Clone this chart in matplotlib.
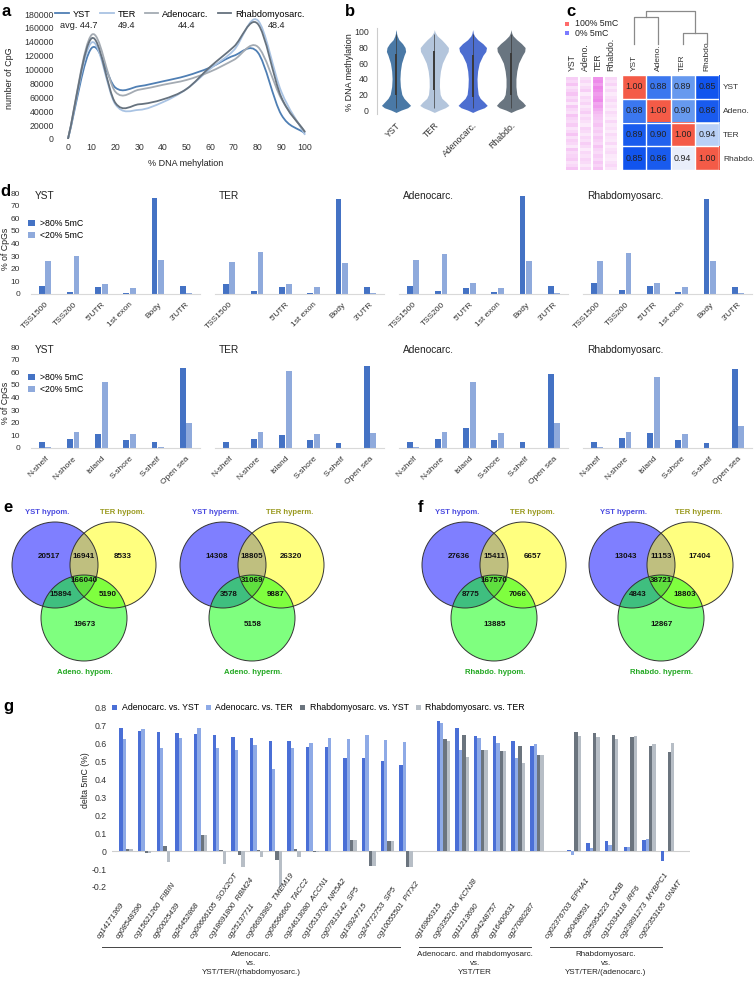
import numpy as np
import matplotlib

matplotlib.use("Agg")
import matplotlib.pyplot as plt
import matplotlib.transforms as mtransforms
from matplotlib.patches import Circle, PathPatch
from matplotlib.path import Path
from matplotlib.lines import Line2D
from matplotlib.colors import LinearSegmentedColormap

plt.rcParams["font.family"] = ["Liberation Sans", "DejaVu Sans"]

# ── data ─────────────────────────────────────────────────────────────────────
# a: CpG counts per methylation bin
meth_bins = [0, 10, 20, 30, 40, 50, 60, 70, 80, 90, 100]
cpg_yst = [0, 131000, 74000, 76000, 83000, 91000, 103000, 120000, 125000, 35000, 8000]
cpg_ter = [0, 139000, 50000, 42000, 53000, 72000, 101000, 128000, 171000, 68000, 6000]
cpg_adeno = [0, 150000, 68000, 71000, 78000, 85000, 97000, 114000, 133000, 58000, 10000]
cpg_rhabdo = [0, 145000, 52000, 50000, 57000, 72000, 104000, 133000, 166000, 60000, 10000]
tumours_a = ["YST", "TER", "Adenocarc.", "Rhabdomyosarc."]
avg_meth = ["44.7", "49.4", "44.4", "48.4"]

# b: violin outlines (relative density at each methylation level)
violin_names = ["YST", "TER", "Adenocarc.", "Rhabdo."]
violin_levels = [-3, 0, 3, 6, 10, 15, 20, 30, 40, 50, 60, 70, 75, 80, 85, 90, 95, 98, 100, 103]
dens_yst = [0, .35, .8, 1.0, .8, .55, .4, .3, .27, .3, .38, .55, .66, .62, .45, .2, .08, .04, .03, 0]
dens_ter = [0, .35, .75, 1.0, .82, .52, .4, .35, .36, .42, .55, .8, .95, .97, .75, .5, .2, .1, .04, 0]
dens_adeno = [0, .35, .8, 1.0, .8, .52, .38, .32, .3, .34, .45, .7, .9, .95, .7, .35, .12, .05, .03, 0]
dens_rhabdo = [0, .35, .8, 1.0, .82, .52, .4, .34, .34, .4, .52, .78, .94, .97, .72, .4, .14, .06, .03, 0]
violin_q1 = [19, 26, 17, 19]
violin_q3 = [72, 75, 71, 73]
violin_lo = [3, 3, 3, 3]
violin_hi = [97, 97, 97, 97]

# c: per-CpG methylation stripes (0..1) and correlation matrix
stripe_labels = ["YST", "Adeno.", "TER", "Rhabdo."]
stripe_yst = [.25, .2, .3, .15, .22, .3, .18, .25, .12, .28, .2, .15, .3, .22, .18,
              .26, .14, .2, .3, .16, .24, .2, .12, .28, .18, .22, .26, .15, .2, .3]
stripe_adeno = [.15, .2, .12, .18, .25, .1, .2, .15, .22, .12, .18, .25, .14, .2, .16,
                .1, .22, .18, .12, .2, .15, .25, .18, .1, .2, .15, .22, .18, .12, .2]
stripe_ter = [.55, .6, .5, .62, .58, .5, .55, .6, .45, .5, .42, .35, .3, .28, .25,
              .3, .22, .26, .2, .28, .24, .2, .3, .22, .18, .25, .2, .28, .22, .3]
stripe_rhabdo = [.2, .15, .22, .12, .18, .1, .15, .2, .12, .16, .1, .18, .14, .1, .2,
                 .12, .16, .1, .18, .14, .12, .2, .1, .15, .18, .12, .1, .16, .2, .14]
corr_labels = ["YST", "Adeno.", "TER", "Rhabdo."]
corr_values = [[1.00, 0.88, 0.89, 0.85],
               [0.88, 1.00, 0.90, 0.86],
               [0.89, 0.90, 1.00, 0.94],
               [0.85, 0.86, 0.94, 1.00]]
# colour key as printed in the original (not symmetric)
corr_shade = [[1.00, 0.875, 0.90, 0.85],
              [0.875, 1.00, 0.90, 0.855],
              [0.855, 0.86, 1.00, 0.935],
              [0.85, 0.855, 0.955, 1.00]]
dendro_heights = [0.27, 0.11, 0.33]  # (YST,Adeno), (TER,Rhabdo), root

# d: % of CpGs by region, >80% and <20% 5mC
gene_regions = ["TSS1500", "TSS200", "5'UTR", "1st exon", "Body", "3'UTR"]
gene_regions_ter = ["TSS1500", "", "5'UTR", "1st exon", "Body", "3'UTR"]
island_regions = ["N-shelf", "N-shore", "Island", "S-shore", "S-shelf", "Open sea"]
tumours_d = ["YST", "TER", "Adenocarc.", "Rhabdomyosarc."]
hi_gene = {"YST": [6.1, 1.8, 5.5, 1.0, 76.0, 6.6],
           "TER": [8.2, 2.1, 5.5, 1.0, 75.2, 5.5],
           "Adenocarc.": [6.3, 2.6, 4.7, 1.6, 77.6, 6.3],
           "Rhabdomyosarc.": [8.4, 2.9, 6.3, 1.6, 75.2, 5.5]}
lo_gene = {"YST": [26.4, 30.3, 8.2, 5.0, 27.2, 0.5],
           "TER": [25.6, 33.5, 8.2, 5.3, 24.5, 0.5],
           "Adenocarc.": [26.9, 31.4, 8.7, 5.0, 26.1, 0.8],
           "Rhabdomyosarc.": [25.9, 32.7, 9.0, 5.3, 25.9, 0.8]}
hi_island = {"YST": [5.0, 7.1, 11.0, 6.3, 4.5, 63.5],
             "TER": [4.7, 7.3, 10.0, 6.3, 4.2, 64.8],
             "Adenocarc.": [5.0, 7.3, 15.5, 6.6, 4.5, 58.3],
             "Rhabdomyosarc.": [4.5, 7.6, 11.5, 6.6, 3.9, 62.5]}
lo_island = {"YST": [1.0, 12.9, 52.0, 11.3, 0.5, 19.9],
             "TER": [0.3, 12.6, 61.2, 11.0, 0.3, 12.1],
             "Adenocarc.": [0.5, 12.9, 52.2, 11.5, 0.3, 19.9],
             "Rhabdomyosarc.": [0.5, 12.3, 55.9, 11.0, 0.3, 17.6]}

# e/f: Venn counts, order = A only, A&B, B only, A&B&C, A&C, B&C, C only
venn_e_hypo = [20517, 16941, 8533, 166040, 15894, 5190, 19673]
venn_e_hyper = [14308, 18805, 26320, 31069, 3578, 9887, 5158]
venn_f_hypo = [27636, 15411, 6657, 167570, 8775, 7066, 13885]
venn_f_hyper = [13043, 11153, 17404, 38721, 4843, 18803, 12867]

# g: delta 5mC per probe
probe_labels = [
    "cg14171369", "cg08548396", "cg15621260  FIBIN", "cg00025439", "cg26452868",
    "cg00666105  SOX2OT", "cg18691800  RBM24", "cg25137711", "cg06693983  TMEM19",
    "cg06566660  TACC2", "cg24613080  ACCN1", "cg10513702  NR5A2", "cg07813142  SP5",
    "cg13924715", "cg24772753  SP5", "cg10055501  PITX2",
    "cg16966315", "cg03352106  KCNJ8", "cg11213690", "cg04248757", "cg16400631", "cg27080287",
    "cg02376703  EPHA1", "cg00498591", "cg25954223  CA5B", "cg12034118  IRF6",
    "cg23891273  MYBPC1", "cg02353165  GNMT"]
probe_group_sizes = [16, 6, 6]
a_vs_yst = [0.691, 0.670, 0.665, 0.663, 0.652, 0.648, 0.637, 0.633, 0.616, 0.616, 0.583, 0.581,
            0.523, 0.521, 0.503, 0.480,
            0.728, 0.691, 0.644, 0.644, 0.616, 0.590,
            0.005, 0.045, 0.055, 0.022, 0.060, -0.055]
a_vs_ter = [0.626, 0.680, 0.579, 0.635, 0.687, 0.574, 0.564, 0.594, 0.460, 0.574, 0.607, 0.633,
            0.626, 0.648, 0.620, 0.609,
            0.717, 0.568, 0.633, 0.603, 0.521, 0.601,
            -0.020, 0.020, 0.035, 0.025, 0.070, 0.002]
r_vs_yst = [0.015, -0.010, 0.030, 0.002, 0.090, 0.005, -0.020, 0.005, -0.050, 0.010, -0.005, 0.002,
            0.060, -0.080, 0.055, -0.090,
            0.626, 0.650, 0.564, 0.561, 0.587, 0.540,
            0.667, 0.659, 0.650, 0.637, 0.590, 0.553]
r_vs_ter = [0.015, -0.010, -0.060, 0.000, 0.090, -0.070, -0.090, -0.030, -0.205, -0.030, -0.005, 0.000,
            0.060, -0.080, 0.055, -0.090,
            0.615, 0.525, 0.564, 0.561, 0.490, 0.540,
            0.641, 0.637, 0.628, 0.641, 0.601, 0.607]
g_series = ["Adenocarc. vs. YST", "Adenocarc. vs. TER", "Rhabdomyosarc. vs. YST", "Rhabdomyosarc. vs. TER"]
group_titles = ["Adenocarc.\nvs.\nYST/TER/(rhabdomyosarc.)",
                "Adenocarc. and rhabdomyosarc.\nvs.\nYST/TER",
                "Rhabdomyosarc.\nvs.\nYST/TER/(adenocarc.)"]

# ── figure helpers ───────────────────────────────────────────────────────────
W, H = 754, 985
fig = plt.figure(figsize=(W / 100, H / 100), dpi=100)
TXT = "#222222"


def px_axes(left, top, right, bottom):
    return fig.add_axes([left / W, 1 - bottom / H, (right - left) / W, (bottom - top) / H])


def ftext(x, y, s, **kw):
    kw.setdefault("color", TXT)
    return fig.text(x / W, 1 - y / H, s, **kw)


def smooth_path(xs, ys):
    # cubic bezier through the points (Excel style smoothed line)
    xs = np.asarray(xs, float)
    ys = np.asarray(ys, float)
    m = np.empty(len(xs))
    m[0] = (ys[1] - ys[0]) / (xs[1] - xs[0])
    m[-1] = (ys[-1] - ys[-2]) / (xs[-1] - xs[-2])
    m[1:-1] = (ys[2:] - ys[:-2]) / (xs[2:] - xs[:-2])
    verts, codes = [(xs[0], ys[0])], [Path.MOVETO]
    for i in range(len(xs) - 1):
        d = (xs[i + 1] - xs[i]) / 3
        verts += [(xs[i] + d, ys[i] + m[i] * d), (xs[i + 1] - d, ys[i + 1] - m[i + 1] * d),
                  (xs[i + 1], ys[i + 1])]
        codes += [Path.CURVE4] * 3
    return Path(verts, codes)


for lab, (x, y) in {"a": (2, 11), "b": (345, 11), "c": (566, 11), "d": (0, 191),
                    "e": (3, 507), "f": (418, 507), "g": (3, 707)}.items():
    ftext(x, y, lab, fontsize=12, fontweight="bold", va="center", color="black")

# ── a ────────────────────────────────────────────────────────────────────────
ax = px_axes(58, 14, 315, 139)
cols_a = ["#4f7fb4", "#a9c3e3", "#a4abb3", "#66727e"]
for vals, col in zip([cpg_yst, cpg_ter, cpg_adeno, cpg_rhabdo], cols_a):
    ax.add_patch(PathPatch(smooth_path(meth_bins, vals), fill=False, edgecolor=col, lw=1.3))
ax.set_xlim(-4.2, 104.2)
ax.set_ylim(0, 180000)
ax.set_xticks(range(0, 101, 10))
yt = list(range(0, 180001, 20000))
ax.set_yticks(yt)
ax.set_yticklabels([str(v) for v in yt])
ax.tick_params(length=0, labelsize=6.3, colors="#333333", pad=3)
for s in ax.spines.values():
    s.set_visible(False)
handles = [Line2D([], [], color=c, lw=1.3) for c in cols_a]
ax.legend(handles, tumours_a, ncol=4, frameon=False, fontsize=6.6, loc="center left",
          bbox_to_anchor=(-0.01, 1.0), handlelength=1.5, columnspacing=1.0, handletextpad=0.4,
          borderpad=0, borderaxespad=0)
for x, s in zip([60, 118, 178, 268], ["avg. " + avg_meth[0]] + avg_meth[1:]):
    ftext(x, 25, s, fontsize=6.6, va="center")
ftext(10, 78, "number of CpG", rotation=90, ha="center", va="center", fontsize=6.5)
ftext(186, 164, "% DNA mehylation", ha="center", va="center", fontsize=6.5)

# ── b ────────────────────────────────────────────────────────────────────────
ax = px_axes(377, 28, 540, 114)
cols_b = ["#4a79a6", "#b3c5dc", "#4d6ed0", "#697580"]
for i, (dens, col) in enumerate(zip([dens_yst, dens_ter, dens_adeno, dens_rhabdo], cols_b)):
    d = np.asarray(dens) * 0.38
    ax.fill_betweenx(violin_levels, i - d, i + d, color=col, lw=0, clip_on=False)
ax.vlines(range(4), violin_lo, violin_hi, color="#3a3a3a", lw=0.5)
ax.vlines(range(4), violin_q1, violin_q3, color="#3a3a3a", lw=1.4)
ax.set_xlim(-0.496, 3.757)
ax.set_ylim(-5, 105)
ax.set_yticks(range(0, 101, 20))
ax.set_xticks(range(4))
ax.set_xticklabels(violin_names, rotation=45, ha="right", va="top", rotation_mode="anchor")
ax.tick_params(length=0, labelsize=6.3, colors="#333333")
ax.tick_params(axis="y", pad=6)
ax.tick_params(axis="x", pad=5)
for k, s in ax.spines.items():
    s.set_visible(k == "left")
ax.spines["left"].set_color("#cccccc")
ftext(349, 72, "% DNA methylation", rotation=90, ha="center", va="center", fontsize=6.5)

# ── c ────────────────────────────────────────────────────────────────────────
ax = px_axes(566, 77, 617, 170)
stripes = np.array([stripe_yst, stripe_adeno, stripe_ter, stripe_rhabdo]).T
pink = LinearSegmentedColormap.from_list("pink", ["#ffffff", "#e23cdc"])
ax.imshow(stripes, cmap=pink, vmin=0, vmax=1, aspect="auto", interpolation="nearest")
ax.set_xticks(range(4))
ax.set_xticklabels(stripe_labels, rotation=90)
ax.set_yticks([])
ax.tick_params(top=True, labeltop=True, bottom=False, labelbottom=False, length=0,
               labelsize=6.3, pad=4, colors="#333333")
for s in ax.spines.values():
    s.set_visible(False)
ax.vlines([0.5, 1.5, 2.5], -0.5, len(stripe_yst) - 0.5, color="white", lw=1.5)

ax = px_axes(622, 75, 719, 170)
corr_cmap = LinearSegmentedColormap.from_list(
    "corr", [(0.0, "#0047ee"), (0.40, "#6d9ff0"), (0.73, "#eef2fb"), (0.80, "#fbe2dc"), (1.0, "#f45b47")])
ax.imshow(np.array(corr_shade), cmap=corr_cmap, vmin=0.84, vmax=1.0, aspect="auto")
for r in range(4):
    for c in range(4):
        ax.text(c, r, f"{corr_values[r][c]:.2f}", ha="center", va="center", fontsize=6.4, color="#222222")
ax.set_xticks(range(4))
ax.set_xticklabels(corr_labels, rotation=90)
ax.set_yticks(range(4))
ax.set_yticklabels(corr_labels)
ax.tick_params(top=True, labeltop=True, bottom=False, labelbottom=False, left=False, labelleft=False,
               right=False, labelright=True, length=0, labelsize=6.0, pad=3, colors="#333333")
ax.set_xticks(np.arange(-0.5, 4, 1), minor=True)
ax.set_yticks(np.arange(-0.5, 4, 1), minor=True)
ax.grid(which="minor", color="white", lw=1)
ax.tick_params(which="minor", length=0)
for s in ax.spines.values():
    s.set_visible(False)

# ── overlay for drawn annotations ────────────────────────────────────────────
ov = fig.add_axes([0, 0, 1, 1])
ov.set_xlim(0, W)
ov.set_ylim(H, 0)
ov.axis("off")
ov.patch.set_visible(False)

# panel c legend + dendrogram
ov.add_patch(plt.Rectangle((565, 22), 4, 4, color="#ff6b6b", lw=0))
ov.add_patch(plt.Rectangle((565, 31), 4, 4, color="#7b7bff", lw=0))
ftext(575, 24, "100% 5mC", fontsize=6.3, va="center")
ftext(575, 33, "0% 5mC", fontsize=6.3, va="center")
leaf_x = [634, 658, 682.5, 707]
base_y, scale_y = 44, 100
hl, hr, hroot = dendro_heights
yl, yr, yroot = base_y - hl * scale_y, base_y - hr * scale_y, base_y - hroot * scale_y
dcol = dict(color="#8a8a8a", lw=0.9)
ov.plot([leaf_x[0], leaf_x[0], leaf_x[1], leaf_x[1]], [base_y, yl, yl, base_y], **dcol)
ov.plot([leaf_x[2], leaf_x[2], leaf_x[3], leaf_x[3]], [base_y, yr, yr, base_y], **dcol)
ml, mr = (leaf_x[0] + leaf_x[1]) / 2, (leaf_x[2] + leaf_x[3]) / 2
ov.plot([ml, ml, mr, mr], [yl, yroot, yroot, yr], **dcol)

# ── d ────────────────────────────────────────────────────────────────────────
col_hi, col_lo = "#4472c4", "#8faadc"
d_lefts = [31, 215, 399, 583]
for row, (top, bottom, hi, lo) in enumerate([(193, 294, hi_gene, lo_gene), (347, 448, hi_island, lo_island)]):
    for j, name in enumerate(tumours_d):
        ax = px_axes(d_lefts[j], top, d_lefts[j] + 169, bottom)
        x = np.arange(6)
        ax.bar(x - 0.115, hi[name], 0.21, color=col_hi, label=">80% 5mC")
        ax.bar(x + 0.115, lo[name], 0.21, color=col_lo, label="<20% 5mC")
        ax.set_xlim(-0.5, 5.5)
        ax.set_ylim(0, 80)
        ax.set_xticks(x)
        if row == 0:
            ax.set_xticklabels(gene_regions_ter if name == "TER" else gene_regions)
        else:
            ax.set_xticklabels(island_regions)
        for lab in ax.get_xticklabels():
            lab.set_rotation(45)
            lab.set_ha("right")
            lab.set_va("top")
            lab.set_rotation_mode("anchor")
        ax.tick_params(length=0, labelsize=6.0, colors="#333333")
        ax.tick_params(axis="x", pad=5)
        ax.tick_params(axis="y", pad=8)
        if j == 0:
            ax.set_yticks(range(0, 81, 10))
            ax.legend(loc="upper left", bbox_to_anchor=(-0.015, 0.74), frameon=False, fontsize=6.3,
                      handlelength=0.7, handleheight=0.7, handletextpad=0.6, labelspacing=0.35,
                      borderpad=0, borderaxespad=0)
        else:
            ax.set_yticks([])
        for k, s in ax.spines.items():
            s.set_visible(k == "bottom")
        ax.spines["bottom"].set_color("#d9d9d9")
        ax.text(0.025, 0.975, name, transform=ax.transAxes, fontsize=7.3, va="center", ha="left",
                color=TXT)
    ftext(5, (top + bottom) / 2 + 5, "% of CpGs", rotation=90, ha="center", va="center", fontsize=6.3)

# ── e / f : Venn diagrams ────────────────────────────────────────────────────
venns = [
    (55, venn_e_hypo, ("YST hypom.", "TER hypom.", "Adeno. hypom.")),
    (223, venn_e_hyper, ("YST hyperm.", "TER hyperm.", "Adeno. hyperm.")),
    (465, venn_f_hypo, ("YST hypom.", "TER hypom.", "Rhabdo. hypom.")),
    (632, venn_f_hyper, ("YST hyperm.", "TER hyperm.", "Rhabdo. hyperm.")),
]
cy, r = 565, 43
offsets = [(-6, -8), (29, -8), (68, -8), (29, 16), (6, 30), (53, 30), (30, 59)]
for bx, counts, names in venns:
    centres = [(bx, cy), (bx + 58, cy), (bx + 29, cy + 53)]
    for (cx, cyy), fc in zip(centres, ["#0000ff", "#ffff00", "#00ff00"]):
        ov.add_patch(Circle((cx, cyy), r, facecolor=fc, alpha=0.5, lw=0))
    for cx, cyy in centres:
        ov.add_patch(Circle((cx, cyy), r, fill=False, edgecolor="#333333", lw=0.7))
    for (dx, dy), n in zip(offsets, counts):
        ov.text(bx + dx, cy + dy, str(n), ha="center", va="center", fontsize=5.8,
                fontweight="bold", color="#111111")
    ov.text(bx - 8, 512, names[0], ha="center", va="center", fontsize=5.6, fontweight="bold", color="#4a4ae0")
    ov.text(bx + 67, 512, names[1], ha="center", va="center", fontsize=5.6, fontweight="bold", color="#9a9a20")
    ov.text(bx + 30, 673, names[2], ha="center", va="center", fontsize=5.6, fontweight="bold", color="#22a822")

# ── g ────────────────────────────────────────────────────────────────────────
ax = px_axes(112, 708, 690, 887)
pos = []
start = 0
for n in probe_group_sizes:
    pos += list(range(start, start + n))
    start += n + 1
pos = np.array(pos, float)
bw = 0.18
cols_g = ["#4a6fd6", "#8eaae6", "#6b747e", "#b7bec6"]
for k, (vals, col, lab) in enumerate(zip([a_vs_yst, a_vs_ter, r_vs_yst, r_vs_ter], cols_g, g_series)):
    ax.bar(pos + (k - 1.5) * bw, vals, bw, color=col, label=lab, lw=0)
ax.axhline(0, color="#cfcfcf", lw=0.8, zorder=0)
ax.set_xlim(-0.75, pos[-1] + 1.2)
ax.set_ylim(-0.2, 0.8)
yt = np.round(np.arange(-0.2, 0.81, 0.1), 1)
ax.set_yticks(yt)
ax.set_yticklabels(["0" if v == 0 else f"{v:.1f}" for v in yt])
ax.set_xticks([])
ax.tick_params(length=0, labelsize=6.3, colors="#333333", pad=4)
for s in ax.spines.values():
    s.set_visible(False)
ax.legend(ncol=4, loc="center left", bbox_to_anchor=(0.0, 1.0), frameon=False, fontsize=6.3,
          handlelength=0.6, handleheight=0.6, handletextpad=0.5, columnspacing=0.8,
          borderpad=0, borderaxespad=0)
ftext(86, 780, "delta 5mC (%)", rotation=90, ha="center", va="center", fontsize=6.3)

blend = mtransforms.blended_transform_factory(ax.transData, fig.transFigure)
lab_tr = mtransforms.offset_copy(blend, fig=fig, x=-24, y=0, units="dots")
for p, lab in zip(pos, probe_labels):
    ax.text(p, 1 - 940 / H, lab, transform=lab_tr, rotation=55, ha="left", va="bottom",
            rotation_mode="anchor", fontsize=5.6, style="italic", color=TXT)

gstart = 0
for n, title in zip(probe_group_sizes, group_titles):
    x0 = ax.transData.transform((pos[gstart], 0))[0] - 24
    x1 = ax.transData.transform((pos[gstart + n - 1], 0))[0] - 6
    ov.plot([x0, x1], [947, 947], color="#444444", lw=0.7)
    ov.text((x0 + x1) / 2, 951, title, ha="center", va="top", fontsize=5.8, linespacing=1.35, color=TXT)
    gstart += n

fig.savefig("out.png", dpi=100)
